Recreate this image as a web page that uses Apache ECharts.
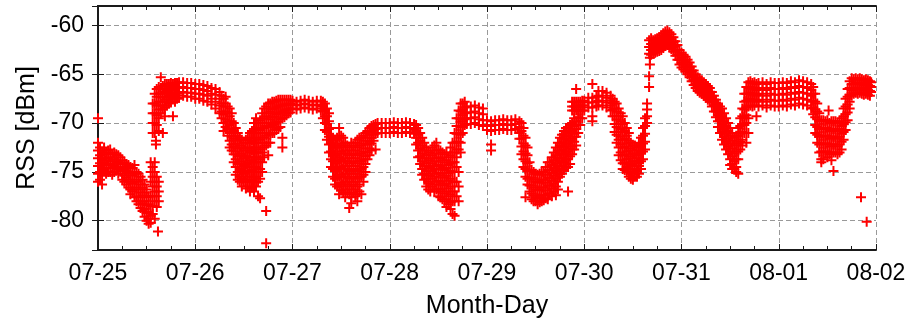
<!DOCTYPE html>
<html>
<head>
<meta charset="utf-8">
<script src="https://cdn.jsdelivr.net/npm/echarts@6/dist/echarts.min.js"></script>
<style>
html,body{margin:0;padding:0;background:#fff;}
#chart{width:910px;height:324px;}
</style>
</head>
<body>
<div id="chart"></div>
<script>
// Tick labels for the x axis (one per day boundary)
const dayLabels = ['07-25','07-26','07-27','07-28','07-29','07-30','07-31','08-01','08-02'];
const xName = 'Month-Day';
const yName = 'RSS [dBm]';

// Each row: [hour of day, RSS values (dBm) observed around that hour ...]
const rss0725 = [
[0,-69.5,-72,-72.8,-73.6,-74.4,-75.2,-76],[0.5,-72.5,-73.3,-74.1,-75,-75.8],[1,-73,-73.8,-74.6,-75.4,-76.3],
[1.5,-72.5,-73.2,-74,-74.8],[2,-73,-73.8,-74.6,-75.2],[2.5,-72.8,-73.6,-74.3,-75],[3,-72.7,-73.5,-74.2,-75],
[3.5,-73.2,-73.9,-74.6,-75.3],[4,-73,-73.7,-74.4,-75],[4.5,-73.2,-73.9,-74.6],[5,-73.3,-74,-74.7,-75.2],
[5.5,-73.5,-74.2,-74.9],[6,-73.8,-74.5,-75.2,-75.8],[6.5,-74,-74.7,-75.4,-76],[7,-74.2,-74.9,-75.6,-76.3],
[7.5,-74.3,-75,-75.8,-76.6],[8,-74.5,-75.2,-76,-76.8,-77.3],[8.5,-74.6,-75.4,-76.2,-77],[9,-74.3,-75.2,-76,-76.8,-77.6],
[9.5,-75,-75.8,-76.6,-77.5,-78],[10,-75.2,-76,-76.8,-77.6,-78.3],[10.5,-75.5,-76.3,-77.1,-78,-78.7],
[11,-75.8,-76.6,-77.4,-78.2,-79],[11.5,-76.3,-77.1,-78,-78.8,-79.6],[12,-76.8,-77.6,-78.4,-79.2,-80],
[12.5,-77.5,-78.3,-79.1,-79.8,-80.3],[13,-74,-75,-76,-77.5,-78.5,-79.5,-80.2],[13.5,-74.5,-75.5,-76.5,-77.5,-78.5,-79.3],
[14,-74,-75,-76,-77,-78,-79.8],[14.5,-75.5,-76.5,-77.5,-78.6],[14.8,-81.1],[15,-76,-77,-78],
[13.5,-68,-69,-70,-71],[14,-67,-68,-69,-70,-71],[14.3,-71.8,-72.2],[14.5,-66.5,-67.3,-68.2,-69.2,-70.2],
[15,-66.3,-67,-67.8,-68.6,-69.5,-70.8],[15.5,-65.3,-66.5,-67.3,-68.2,-69],[16,-66.2,-67,-67.8,-68.6,-71],
[16.5,-66,-66.8,-67.6,-68.4,-69.3],[17,-66,-66.7,-67.4,-68.2],[17.5,-66,-66.6,-67.3,-68],[18,-65.9,-66.5,-67.2,-67.9],
[18.5,-66,-66.6,-67.3,-69.3],[19,-65.9,-66.5,-67.1,-67.8],[19.5,-65.9,-66.4,-67,-67.5],[20,-65.8,-66.3,-66.9,-67.4],
[21,-65.8,-66.3,-66.8,-67.2],[22,-65.9,-66.4,-66.9,-67.3],[23,-65.9,-66.4,-66.9,-67.3]
];
const rss0726 = [
[0,-66,-66.5,-67,-67.5],[1,-66,-66.5,-67,-67.5],[2,-66.1,-66.6,-67.1,-67.7],[3,-66.2,-66.7,-67.2,-67.8],
[4,-66.4,-67,-67.5,-68.1],[5,-66.5,-67.1,-67.8,-68.5],[6,-66.8,-67.5,-68.2,-69],[6.5,-67.2,-68,-68.8,-69.5],
[7,-67.5,-68.3,-69.1,-70,-70.8],[7.5,-67.3,-68,-68.8,-69.6,-70.4],[8,-68.3,-69,-69.8,-70.6,-71.3],
[8.5,-68.5,-69.3,-70.2,-71,-71.8,-72.5],[9,-69,-69.8,-70.6,-71.4,-72.2,-72.8],[9.5,-70,-70.8,-71.6,-72.4,-73.2,-74],
[10,-70.5,-71.3,-72.1,-72.9,-73.7,-74.5,-75.3],[10.5,-71,-71.8,-72.6,-73.4,-74.2,-75,-75.8],
[11,-71.5,-72.3,-73.1,-73.9,-74.7,-75.5,-76],[11.5,-71.7,-72.5,-73.3,-74.1,-74.9,-75.7,-76.5],
[12,-72,-72.8,-73.6,-74.4,-75.2,-76],[12.5,-71.7,-72.6,-73.4,-74.2,-75,-75.8,-76.7],
[13,-71.5,-72.5,-73.5,-74.5,-75.5,-76.5],[13.5,-71,-72,-73,-74,-75,-76,-77],
[14,-70.8,-71.8,-72.8,-73.8,-74.8,-75.8,-76.6],[14.5,-70,-71,-72,-73,-74,-75,-76,-77],
[15,-69.5,-70.5,-71.5,-72.5,-73.5,-74.5,-75.5,-76.5],[15.5,-70,-71,-72,-73,-74,-75,-76,-77.5],
[16,-69.7,-70.7,-71.7,-72.7,-73.7,-74.7,-75.7,-77.7],[16.5,-69,-70,-71,-72,-73,-74,-75],
[17,-68.5,-69.5,-70.5,-71.5,-72.5,-73.5],[17.5,-68.3,-69.3,-70.3,-71.3,-72.3,-79,-82.3],
[18,-68,-69,-70,-71,-72,-73.3],[18.5,-68,-68.8,-69.6,-70.4,-71.2,-72],[19,-67.8,-68.6,-69.4,-70.2,-71],
[19.5,-67.8,-68.5,-69.3,-70.1,-71],[20,-67.7,-68.4,-69.1,-69.9,-70.7],[20.5,-67.6,-68.3,-69,-69.8,-70.5],
[21,-67.6,-68.2,-68.9,-69.6,-70.4],[21.5,-67.6,-68.2,-68.8,-69.5,-71.5,-72.5],[22,-67.6,-68.1,-68.7,-69.4],
[22.5,-67.6,-68.1,-68.6,-69.2],[23,-67.6,-68.1,-68.6,-69],[23.5,-67.6,-68,-68.5,-68.9]
];
const rss0727 = [
[0,-67.7,-68.1,-68.5],[1,-67.8,-68.2,-68.6],[2,-67.7,-68.1,-68.5],[3,-67.6,-68,-68.4],[4,-67.7,-68.1,-68.5],
[5,-67.8,-68.2,-68.6],[6,-67.7,-68.1,-68.5],[7,-67.7,-68.2,-68.7],[7.5,-67.8,-68.3,-68.8,-69.5],
[8,-68,-68.6,-69.3,-70,-70.7],[8.5,-68.5,-69.3,-70.1,-70.9,-71.7],[9,-69,-69.8,-70.6,-71.4,-72.2,-73],
[9.5,-70.5,-71.3,-72.1,-72.9,-73.7,-74.5],[10,-71.5,-72.3,-73.1,-73.9,-74.7,-75.5],
[10.5,-71.7,-72.5,-73.3,-74.1,-74.9,-75.7,-76.3],[11,-71.5,-72.3,-73.1,-73.9,-74.7,-75.5,-76.5],
[11.5,-70.5,-71.5,-72.5,-73.5,-74.5,-75.5,-76.5,-77.3],[12,-71.3,-72.1,-72.9,-73.7,-74.5,-75.3,-76.1,-76.9],
[12.5,-71.5,-72.3,-73.1,-73.9,-74.7,-75.5,-76.3,-77.1],[13,-72,-72.8,-73.6,-74.4,-75.2,-76,-76.8,-77.6],
[13.5,-72.3,-73.1,-73.9,-74.7,-75.5,-76.3,-77.1],[14,-72.5,-73.3,-74.1,-74.9,-75.7,-76.5,-77.3,-78.7],
[14.5,-72,-72.8,-73.6,-74.4,-75.2,-76,-76.8,-77.6,-78.2],[15,-72.3,-73.1,-73.9,-74.7,-75.5,-76.3,-77.1],
[15.5,-72,-72.8,-73.6,-74.4,-75.2,-76,-76.8,-77.5],[16,-71.7,-72.5,-73.3,-74.1,-74.9,-75.7,-76.5,-77.3,-78],
[16.5,-71.5,-72.3,-73.1,-73.9,-74.7,-75.5,-76.3,-77],[17,-71.5,-72.3,-73.1,-73.9,-74.7,-75.5,-77.3],
[17.5,-71.3,-72.1,-72.9,-73.7,-74.5,-75.3,-76],[18,-71,-71.8,-72.6,-73.4,-74.2,-75],
[18.5,-70.8,-71.5,-72.2,-73,-73.7],[19,-70.5,-71.2,-71.9,-72.6,-73.3],[19.5,-70.3,-70.9,-71.5,-72.1,-72.8],
[20,-70.2,-70.7,-71.2,-71.8],[20.5,-70.1,-70.6,-71.1,-72.7],[21,-70,-70.5,-71],[22,-70,-70.5,-71],[23,-70,-70.5,-71]
];
const rss0728 = [
[0,-70,-70.5,-71],[1,-69.9,-70.4,-70.9],[2,-70,-70.5,-71],[3,-70,-70.5,-71],[4,-69.9,-70.4,-70.9],
[5,-70,-70.5,-71],[6,-70.1,-70.6,-71.1],[6.5,-70.2,-70.8,-71.5,-72.2],[7,-70.5,-71.2,-72,-72.8,-73.5],
[7.5,-71,-71.8,-72.6,-73.4,-74.2],[8,-71.5,-72.3,-73.1,-73.9,-74.7,-75.3],[8.5,-72,-72.8,-73.6,-74.4,-75.2,-75.8],
[9,-72.5,-73.3,-74.1,-74.9,-75.7,-76.5],[9.5,-72.8,-73.6,-74.4,-75.2,-76,-76.8],[10,-73,-73.8,-74.6,-75.4,-76.2,-77],
[10.5,-72.5,-73.3,-74.1,-74.9,-75.7,-76.5],[11,-72.3,-73.1,-73.9,-74.7,-75.5,-76.3,-77],
[11.5,-72,-72.8,-73.6,-74.4,-75.2,-76,-76.8],[12,-72.7,-73.5,-74.3,-75.1,-75.9,-76.7,-77.5],
[12.5,-72.8,-73.6,-74.4,-75.2,-76,-76.8,-77.6],[13,-73,-73.8,-74.6,-75.4,-76.2,-77,-77.8],
[13.5,-73.2,-74,-74.8,-75.6,-76.4,-77.2,-78],[14,-73,-73.8,-74.6,-75.4,-76.2,-77,-77.8,-78.6],
[14.5,-73.5,-74.3,-75.1,-75.9,-76.7,-77.5,-78.3],[15,-72.5,-73.3,-74.1,-74.9,-75.7,-76.5,-77.3,-78.1,-78.8],
[15.5,-72,-73,-74,-75,-76,-77,-78,-79.3],[16,-71,-72,-73,-74,-75,-76,-77,-78,-79.5],
[16.5,-69.5,-70.3,-71.1,-71.9,-72.7,-73.5,-74.5,-76,-77.5],[17,-68.7,-69.5,-70.3,-71.1,-71.9,-72.7,-75,-76.5,-78],
[17.5,-68,-68.8,-69.6,-70.4,-71.2,-72,-73],[18,-68,-68.6,-69.2,-69.8,-70.4,-71],[18.5,-67.8,-68.4,-69,-69.6,-70.2],
[19,-68.3,-68.9,-69.5,-70.1],[20,-68.3,-68.9,-69.5,-70.1],[21,-68.2,-68.8,-69.4,-70],[22,-68.4,-69,-69.6,-70.2],
[23,-68.5,-69.1,-69.7,-70.3]
];
const rss0729 = [
[0,-69.7,-70.2,-70.7],[1,-69.8,-70.3,-70.8,-72.2,-72.8],[2,-69.7,-70.2,-70.7],[3,-69.7,-70.2,-70.7],
[4,-69.6,-70.1,-70.6],[5,-69.7,-70.2,-70.7],[6,-69.7,-70.2,-70.7],[7,-69.6,-70.1,-70.6],[8,-69.8,-70.4,-71,-71.6],
[8.5,-70,-70.8,-71.6,-72.4,-73.2],[9,-70.5,-71.3,-72.1,-72.9,-73.7,-74.5],[9.5,-71.5,-72.3,-73.1,-73.9,-74.7,-75.5,-77.6],
[10,-72.5,-73.3,-74.1,-74.9,-75.7,-76.3],[10.5,-74,-74.8,-75.6,-76.4,-77],[11,-74.8,-75.6,-76.4,-77.2,-77.8],
[11.5,-75,-75.8,-76.6,-77.4,-78],[12,-75.2,-76,-76.8,-77.6,-78],[12.5,-75.3,-76.1,-76.9,-77.7,-78.3],
[13,-75.2,-76,-76.8,-77.6,-78.1],[13.5,-75,-75.8,-76.6,-77.4,-78],[14,-75,-75.8,-76.6,-77.4,-77.9],
[14.5,-74.5,-75.3,-76.1,-76.9,-77.7],[15,-74,-74.8,-75.6,-76.4,-77.2,-77.8],[15.5,-74,-74.8,-75.6,-76.4,-77.2],
[16,-73.5,-74.3,-75.1,-75.9,-76.7,-77.5],[16.5,-73,-73.8,-74.6,-75.4,-76.2,-77],
[17,-72.5,-73.3,-74.1,-74.9,-75.7,-76.5,-77.4],[17.5,-72,-72.8,-73.6,-74.4,-75.2,-76,-76.8],
[18,-71.5,-72.3,-73.1,-73.9,-74.7,-75.5],[18.5,-71.2,-72,-72.8,-73.6,-74.4,-75.2],
[19,-70.8,-71.6,-72.4,-73.2,-74,-74.8],[19.5,-70.5,-71.3,-72.1,-72.9,-73.7,-74.5],
[20,-70.5,-71.3,-72.1,-72.9,-73.7,-74.5,-77],[20.5,-70.2,-71,-71.8,-72.6,-73.4,-74.2],
[21,-67.8,-68.3,-68.7,-70,-70.8,-71.6,-72.4,-73.2],[21.5,-67.8,-68.3,-68.7,-69.5,-70.3,-71.1,-71.9,-72.7],
[22,-66.5,-67.8,-68.3,-68.7,-69.8,-70.6,-71.4,-72.3],[22.5,-67.8,-68.3,-68.7,-69.4,-70.2,-71],
[23,-67.8,-68.3,-68.8,-69.5,-70.2],[23.5,-67.7,-68.2,-68.7,-69.5]
];
const rss0730 = [
[0,-67.7,-68.2,-68.7],[1,-67.4,-67.9,-68.4],[2,-66,-67.4,-67.9,-68.4,-69.3,-69.8],[3,-67.3,-67.8,-68.3],
[3.5,-66.7,-67.2,-67.7,-68.2],[4.5,-66.7,-67.2,-67.7,-68.2],[5.5,-66.9,-67.4,-67.9,-68.4],[6.5,-67.2,-67.7,-68.2,-68.7],
[7,-67.5,-68,-68.6,-69.3],[7.5,-67.8,-68.5,-69.3,-70.1,-70.9],[8,-68,-68.8,-69.6,-70.4,-71.2,-72],
[8.5,-68.5,-69.3,-70.1,-70.9,-71.7,-72.5,-73.3],[9,-69,-69.8,-70.6,-71.4,-72.2,-73,-73.8],
[9.5,-69.3,-70.1,-70.9,-71.7,-72.5,-73.3,-74.1,-74.7],[10,-70,-70.8,-71.6,-72.4,-73.2,-74,-74.8],
[10.5,-70.5,-71.3,-72.1,-72.9,-73.7,-74.5,-75],[11,-71,-71.8,-72.6,-73.4,-74.2,-75,-75.5],
[11.5,-72,-72.8,-73.6,-74.4,-75.2,-75.7],[12,-72.3,-73.1,-73.9,-74.7,-75.5,-75.8],[12.5,-72.3,-73.1,-73.9,-74.7,-75.5],
[13,-72.5,-73.3,-74.1,-74.9,-75.5],[13.5,-72,-72.8,-73.6,-74.4,-75.2],[14,-71.5,-72.3,-73.1,-73.9,-74.7],
[14.5,-70.5,-71.3,-72.1,-72.9,-73.7],[15,-69.5,-70.3,-71.1,-71.9,-72.7],[15.5,-68,-68.6,-69.3,-70],
[16,-66.3,-65.2,-61.5,-62.2,-62.9],[16.2,-64,-63.3],[16.5,-61.3,-61.9,-62.5,-63],[17,-61.5,-62,-62.5,-62.9],
[17.5,-61.4,-61.9,-62.4,-62.8],[18,-61.3,-61.8,-62.3,-62.7],[18.5,-61.2,-61.7,-62.2,-62.6],[19,-61,-61.5,-62,-62.5],
[19.5,-60.8,-61.3,-61.8,-62.3],[20,-60.6,-61.1,-61.6,-62.1],[20.5,-60.5,-61,-61.5,-62],[21,-60.7,-61.2,-61.7,-62.2],
[21.5,-60.9,-61.4,-61.9,-62.4],[22,-61.2,-61.7,-62.2,-62.7],[22.5,-61.6,-62.1,-62.6,-63.1],[23,-62,-62.5,-63,-63.5],
[23.5,-62.5,-63,-63.5,-64]
];
const rss0731 = [
[0,-62.8,-63.3,-63.8,-64.3],[0.5,-63,-63.5,-64,-64.5],[1,-63.2,-63.7,-64.2,-64.7],[1.5,-63.5,-64,-64.5,-65],
[2,-63.8,-64.3,-64.8,-65.3],[2.5,-64.2,-64.7,-65.2,-65.7],[3,-64.6,-65.1,-65.6,-66.1],[3.5,-65,-65.5,-66,-66.4],
[4,-65.3,-65.8,-66.3,-66.7],[4.5,-65.5,-66,-66.5,-66.9],[5,-65.6,-66.1,-66.6,-67],[5.5,-65.8,-66.3,-66.8,-67.2],
[6,-66,-66.5,-67,-67.4],[6.5,-66.2,-66.7,-67.2,-67.6],[7,-66.4,-66.9,-67.4,-67.8],[7.5,-66.8,-67.3,-67.8,-68.3],
[8,-67.2,-67.7,-68.2,-68.8],[8.5,-67.6,-68.2,-68.8,-69.4],[9,-68,-68.6,-69.2,-69.8,-70.4],
[9.5,-68.3,-69,-69.7,-70.4,-71],[10,-68.5,-69.3,-70.1,-70.9,-71.7],[10.5,-69,-69.8,-70.6,-71.4,-72.2],
[11,-69.5,-70.3,-71.1,-71.9,-72.7],[11.5,-70,-70.8,-71.6,-72.4,-73.2],[12,-70.5,-71.3,-72.1,-72.9,-73.7,-74.3],
[12.5,-71,-71.8,-72.6,-73.4,-74.2,-74.7],[13,-71.5,-72.3,-73.1,-73.9,-74.7],[13.5,-71.3,-72.1,-72.9,-73.7,-74.5,-75],
[14,-70.5,-71.3,-72.1,-72.9,-73.7,-75.2],[14.5,-69.5,-70.3,-71.1,-71.9,-72.7],[15,-68.5,-69.3,-70.1,-70.9,-71.7,-72.3],
[15.5,-67,-67.8,-68.6,-69.4,-70.2,-71],[16,-66.3,-67,-67.7,-68.4,-69.2,-70,-71,-72],
[16.5,-65.8,-66.4,-67,-67.6,-68.3,-69.5,-71],[17,-65.7,-66.3,-66.9,-67.5,-68.2],[17.5,-65.9,-66.5,-67.1,-67.7,-68.3],
[18,-65.8,-66.4,-67,-67.6,-68.2],[18.5,-66,-66.6,-67.2,-67.8,-69.3],[19,-65.9,-66.5,-67.1,-67.7,-68.3],
[20,-65.8,-66.4,-67,-67.6,-68.2],[21,-66,-66.6,-67.2,-67.8,-68.4],[22,-65.8,-66.4,-67,-67.6,-68.2],
[23,-65.9,-66.5,-67.1,-67.7,-68.3]
];
const rss0801 = [
[0,-65.9,-66.5,-67.1,-67.7,-68.3],[1,-65.8,-66.4,-67,-67.6,-68.2],[2,-65.9,-66.5,-67.1,-67.7,-68.3],
[3,-65.7,-66.3,-66.9,-67.5,-68.1],[4,-65.8,-66.4,-67,-67.6,-68.2],[5,-65.6,-66.2,-66.8,-67.4,-68],
[6,-65.7,-66.3,-66.9,-67.5,-68.1],[7,-65.8,-66.4,-67,-67.6,-68.2],[8,-66,-66.6,-67.2,-67.8,-68.5],
[8.5,-66.3,-67,-67.7,-68.4,-69.1],[9,-67,-67.8,-68.6,-69.4,-70.2,-71],[9.5,-68,-68.8,-69.6,-70.4,-71.2,-72],
[10,-69,-69.8,-70.6,-71.4,-72.2,-73],[10.5,-69.7,-70.5,-71.3,-72.1,-72.9,-73.7,-74],
[11,-69.7,-70.5,-71.3,-72.1,-72.9,-73.7],[11.5,-69.8,-70.6,-71.4,-72.2,-73],[12,-69.7,-70.5,-71.3,-72.1,-72.9,-73.5],
[12.3,-68.7],[12.5,-70,-70.8,-71.6,-72.4,-73.2],[13,-69.8,-70.6,-71.4,-72.2,-73,-73.8],
[13.5,-69.8,-70.6,-71.4,-72.2,-73,-74.9],[14,-69.8,-70.6,-71.4,-72.2,-73],[14.5,-70,-70.8,-71.6,-72.4,-73.2],
[15,-69.8,-70.6,-71.4,-72.2,-73],[15.5,-69.5,-70.3,-71.1,-71.9,-72.7],[16,-68.5,-69.3,-70.1,-70.9,-71.7],
[16.5,-67.5,-68.3,-69.1,-69.9,-70.7],[17,-66.5,-67.3,-68.1,-68.9,-69.7],[17.5,-65.7,-66.4,-67.1,-67.8,-68.5],
[18,-65.4,-66,-66.6,-67.2],[18.5,-65.5,-66,-66.5,-67],[19,-65.4,-65.9,-66.4,-66.9],[19.5,-65.5,-66,-66.5,-67],
[20,-65.4,-65.9,-66.4,-66.9],[20.3,-77.6],[20.5,-65.5,-66,-66.5,-67],[21,-65.6,-66.1,-66.6,-67.1],
[21.5,-65.5,-66,-66.5,-67],[21.7,-80.1],[22,-65.6,-66.1,-66.6,-67.1],[22.5,-65.7,-66.2,-66.7,-67.2],[22.8,-65.8,-66.3,-66.8]
];

const dayArrays = [rss0725, rss0726, rss0727, rss0728, rss0729, rss0730, rss0731, rss0801];
const points = [];
dayArrays.forEach((arr, d) => {
  arr.forEach(row => {
    for (let i = 1; i < row.length; i++) points.push([d * 24 + row[0], row[i]]);
  });
});

const FONT = 'Liberation Sans';
const axisLineStyle = { color: '#1a1a1a', width: 2 };
const tickStyle = { color: '#1a1a1a', width: 1 };
const gridLine = { show: true, lineStyle: { color: '#999999', width: 1, type: [5, 3] } };

const chart = echarts.init(document.getElementById('chart'));
chart.setOption({
  animation: false,
  backgroundColor: '#fff',
  grid: { left: 98, right: 34, top: 6, bottom: 67, containLabel: false },
  xAxis: [{
    type: 'value', min: 0, max: 192, interval: 24, position: 'bottom',
    name: xName, nameLocation: 'middle', nameGap: 44,
    nameTextStyle: { fontFamily: FONT, fontSize: 25, color: '#000' },
    axisLine: { show: true, lineStyle: axisLineStyle },
    axisTick: { show: true, inside: true, length: 6, lineStyle: tickStyle },
    minorTick: { show: true, splitNumber: 4, length: 4, lineStyle: tickStyle },
    axisLabel: { margin: 12, fontFamily: FONT, fontSize: 23, color: '#000',
      formatter: v => dayLabels[Math.round(v / 24)] },
    splitLine: gridLine
  }, {
    type: 'value', min: 0, max: 192, interval: 24, position: 'top',
    axisLine: { show: true, lineStyle: axisLineStyle },
    axisTick: { show: true, inside: true, length: 6, lineStyle: tickStyle },
    minorTick: { show: true, splitNumber: 4, length: 4, lineStyle: tickStyle },
    axisLabel: { show: false }, splitLine: { show: false }
  }],
  yAxis: [{
    type: 'value', min: -83, max: -58, splitNumber: 5, position: 'left',
    name: yName, nameLocation: 'middle', nameGap: 58, nameRotate: 90,
    nameTextStyle: { fontFamily: FONT, fontSize: 25, color: '#000' },
    axisLine: { show: true, lineStyle: axisLineStyle },
    axisTick: { show: true, inside: true, length: 6, lineStyle: tickStyle },
    axisLabel: { margin: 14, fontFamily: FONT, fontSize: 23, color: '#000',
      showMinLabel: false, showMaxLabel: false,
      formatter: v => (v % 5 === 0 ? String(v) : '') },
    splitLine: gridLine
  }, {
    type: 'value', min: -83, max: -58, splitNumber: 5, position: 'right',
    axisLine: { show: true, lineStyle: axisLineStyle },
    axisTick: { show: true, inside: true, length: 6, lineStyle: tickStyle },
    axisLabel: { show: false }, splitLine: { show: false }
  }],
  series: [{
    type: 'scatter', xAxisIndex: 0, yAxisIndex: 0,
    data: points,
    symbol: 'path://M4,0h2v4h4v2h-4v4h-2v-4h-4v-2h4z',
    symbolSize: 10,
    itemStyle: { color: '#ff0000', opacity: 1 },
    emphasis: { disabled: true },
    clip: false
  }]
});
</script>
</body>
</html>
